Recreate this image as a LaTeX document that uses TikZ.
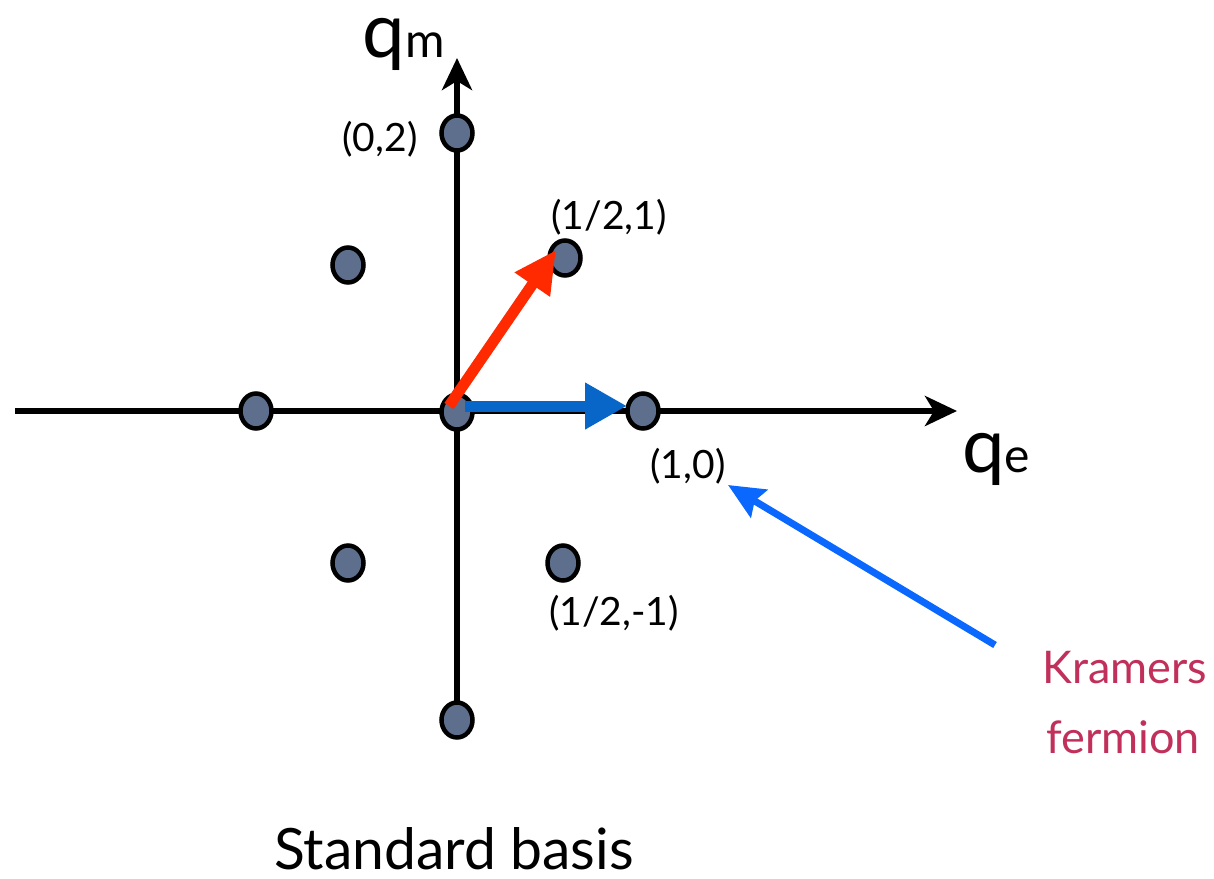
\documentclass[tikz,border=0pt]{standalone}
\usepackage{fontspec}
\setmainfont{Lato}
\usetikzlibrary{arrows.meta,shapes.geometric}
\definecolor{dotfill}{HTML}{5D6F8C}
\definecolor{redarr}{HTML}{FF2A00}
\definecolor{bluearr}{HTML}{0766C8}
\definecolor{kramblue}{HTML}{0A68FF}
\definecolor{kramtext}{HTML}{C0305A}
\tikzset{
  axis/.style={line width=6.5pt, draw=black, -{Stealth[length=32pt,width=30pt,inset=9pt]}},
  latdot/.style={ellipse, draw=black, fill=dotfill, line width=4.5pt, minimum width=31pt, minimum height=35pt, inner sep=0pt},
  lbl/.style={font=\fontsize{39}{42}\selectfont, inner sep=0pt, anchor=base},
  axlbl/.style={inner sep=0pt, anchor=base},
  qlbl/.style={inner sep=0pt, anchor=base, text height=38pt, text depth=16pt},
  vecred/.style={line width=11pt, draw=redarr, -{Triangle[length=42pt,width=40pt]}},
  vecblue/.style={line width=11pt, draw=bluearr, -{Triangle[length=42pt,width=44pt]}},
  pointer/.style={line width=7pt, draw=kramblue, -{Stealth[length=36pt,width=32pt,inset=5pt]}},
}
\begin{document}
\begin{tikzpicture}[x=1pt,y=-1pt]
\useasboundingbox (0,0) rectangle (1214,878);
% axes
\coordinate (xl) at (15,411);
\coordinate (xr) at (957,411);
\coordinate (yb) at (457,720);
\coordinate (yt) at (457,58);
\draw[axis] (xl) -- (xr);
\draw[axis] (yb) -- (yt);
% lattice points
\node[latdot] (p02)  at (457,133) {};
\node[latdot] (pm1)  at (348,265) {};
\node[latdot] (p11)  at (565,258) {};
\node[latdot] (pm0)  at (256,411) {};
\node[latdot] (p00)  at (457,412) {};
\node[latdot] (p10)  at (643,411) {};
\node[latdot] (pmm)  at (348,563) {};
\node[latdot] (p1m)  at (563,563) {};
\node[latdot] (p0m)  at (457,720) {};
% vectors
\coordinate (rs) at (449,406);
\coordinate (re) at (556,250);
\draw[vecred] (rs) -- (re);
\coordinate (bs) at (465,406);
\coordinate (be) at (627,406);
\draw[vecblue] (bs) -- (be);
% labels
\node[lbl] (l02) at (380,151) {(0,2)};
\node[lbl] (l11) at (609,229) {(1/2,1)};
\node[lbl] (l10) at (688,478) {(1,0)};
\node[lbl] (l1m) at (614,625) {(1/2,-1)};
\node[qlbl] (qm) at (404,57) {\fontsize{76}{80}\selectfont q\fontsize{48}{52}\selectfont m};
\node[qlbl] (qe) at (996,472) {\fontsize{76}{80}\selectfont q\fontsize{48}{52}\selectfont e};
\node[axlbl, text=kramtext, font=\fontsize{45}{50}\selectfont] (kr1) at (1125,683) {Kramers};
\node[axlbl, text=kramtext, font=\fontsize{45}{50}\selectfont] (kr2) at (1123,753) {fermion};
\node[axlbl, font=\fontsize{57}{62}\selectfont, text height=42pt, text depth=0pt] (title) at (454,869) {Standard basis};
% pointer
\coordinate (ks) at (995,645);
\coordinate (ke) at (728,485);
\draw[pointer] (ks) -- (ke);
\end{tikzpicture}
\end{document}
